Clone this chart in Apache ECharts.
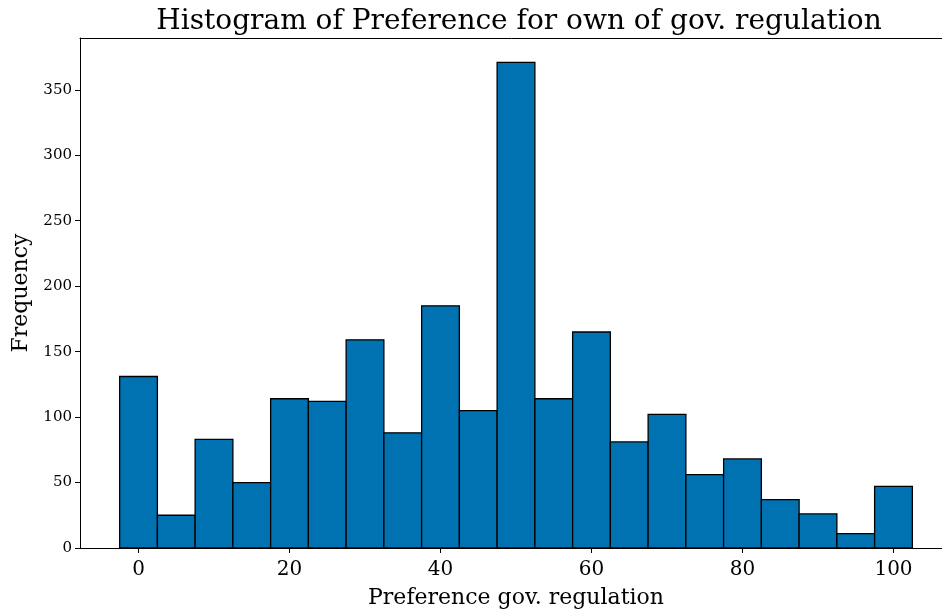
<!DOCTYPE html>
<html>
<head>
<meta charset="utf-8">
<script src="https://cdn.jsdelivr.net/npm/echarts@6/dist/echarts.min.js"></script>
<style>html,body{margin:0;padding:0;background:#fff}#c{width:942px;height:610px}</style>
</head>
<body>
<div id="c"></div>
<script>
const binCenters = [0,5,10,15,20,25,30,35,40,45,50,55,60,65,70,75,80,85,90,95,100];
const frequencies = [131,25,83,50,114,112,159,88,185,105,371,114,165,81,102,56,68,37,26,11,47];
const binWidth = 5;
const xTicks = [0,20,40,60,80,100];
const yTicks = [0,50,100,150,200,250,300,350];

const font = 'DejaVu Serif';
const data = binCenters.map((c,i)=>[c - binWidth/2, c + binWidth/2, frequencies[i]]);
const chart = echarts.init(document.getElementById('c'));
chart.setOption({
  animation:false,
  backgroundColor:'#fff',
  title:{text:'Histogram of Preference for own of gov. regulation',left:514,top:3,textAlign:'center',
    textStyle:{fontFamily:font,fontSize:28,fontWeight:'normal',color:'#000'}},
  grid:{left:80,top:38,width:872,height:510,outerBoundsMode:'none',containLabel:false},
  xAxis:[{type:'value',min:-7.75,max:107.75,
    name:'Preference gov. regulation',nameLocation:'middle',nameGap:39,
    nameTextStyle:{fontFamily:font,fontSize:22,color:'#000'},
    splitLine:{show:false},
    axisLine:{onZero:false,lineStyle:{color:'#000',width:1}},
    axisTick:{show:true,length:5,lineStyle:{color:'#000'},customValues:xTicks},
    axisLabel:{fontFamily:font,fontSize:20,color:'#000',margin:12,customValues:xTicks}},
   {type:'value',position:'top',min:-7.75,max:107.75,
    splitLine:{show:false},axisLine:{show:true,onZero:false,lineStyle:{color:'#000',width:1}},
    axisTick:{show:false},axisLabel:{show:false}}],
  yAxis:{type:'value',min:0,max:389.55,
    name:'Frequency',nameLocation:'middle',nameGap:48,
    nameTextStyle:{fontFamily:font,fontSize:22,color:'#000'},
    splitLine:{show:false},
    axisLine:{show:true,onZero:false,lineStyle:{color:'#000',width:1}},
    axisTick:{show:true,length:5,lineStyle:{color:'#000'},customValues:yTicks},
    axisLabel:{fontFamily:font,fontSize:15,color:'#000',margin:8,customValues:yTicks}},
  series:[{type:'custom',data:data,encode:{x:[0,1],y:2},
    renderItem:function(params,api){
      const p0 = api.coord([api.value(0), api.value(2)]);
      const p1 = api.coord([api.value(1), 0]);
      return {type:'rect',shape:{x:p0[0],y:p0[1],width:p1[0]-p0[0],height:p1[1]-p0[1]},
        style:{fill:'#0072B2',stroke:'#000',lineWidth:1.3}};
    }}]
});
</script>
</body>
</html>
